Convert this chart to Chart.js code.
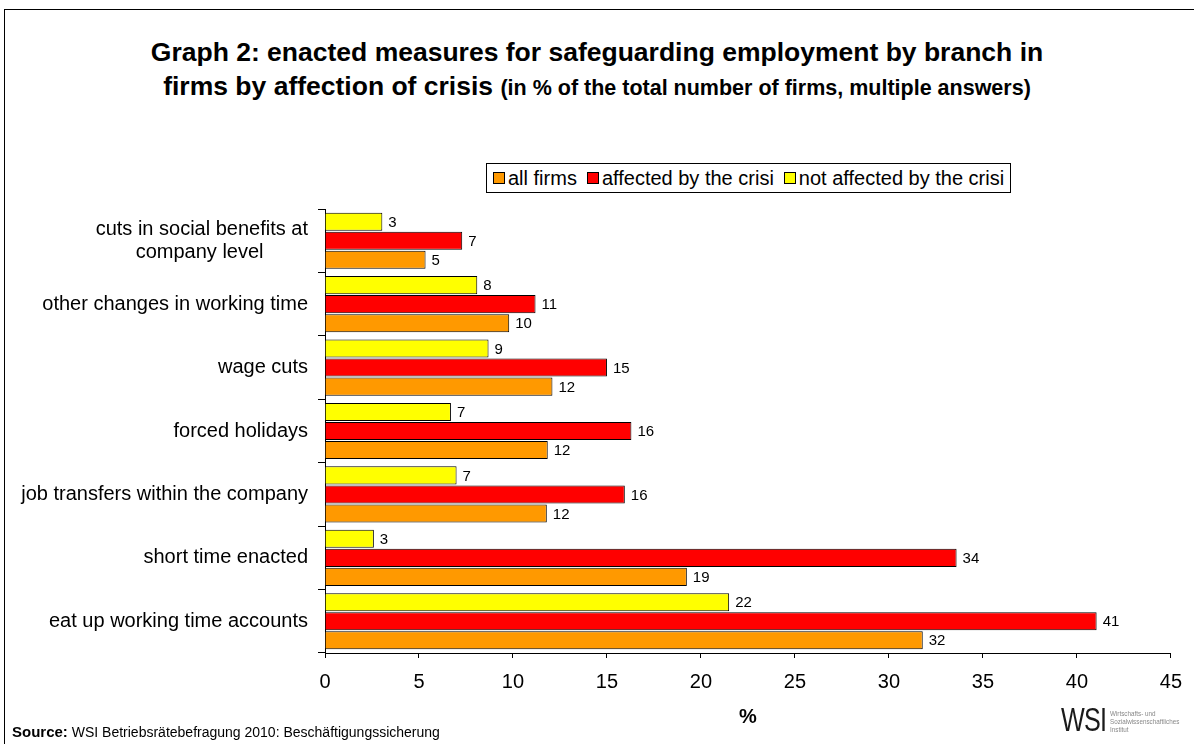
<!DOCTYPE html>
<html>
<head>
<meta charset="utf-8">
<script src="https://cdn.jsdelivr.net/npm/chart.js@4.4.1/dist/chart.umd.min.js"></script>
<style>
  body { margin: 0; width: 1194px; height: 744px; overflow: hidden; background: #fff; font-family: "Liberation Sans", Arial, sans-serif; position: relative; }
  .frame { position: absolute; left: 4px; top: 9px; right: -4px; bottom: -4px; border-left: 1px solid #000; border-top: 1px solid #000; }
  #title { position: absolute; left: 0; top: 35px; width: 1194px; text-align: center; font-weight: bold; font-size: 26.5px; line-height: 34px; color: #000; }
  #title span { font-size: 21.5px; }
  #legend { position: absolute; left: 486px; top: 163px; height: 28px; border: 1px solid #000; display: flex; align-items: center; padding: 0 6px; font-size: 20px; color: #000; background: #fff; }
  #legend .item { display: flex; align-items: center; margin-right: 10px; }
  #legend .item:last-child { margin-right: 0; }
  #legend .box { width: 10px; height: 10px; border: 1px solid #000; margin-right: 3px; }
  #wrap { position: absolute; left: 0; top: 0; }
  #source { position: absolute; left: 12px; top: 723px; font-size: 14px; color: #000; }
  #source b { font-size: 15px; }
  #logo { position: absolute; left: 1061px; top: 702px; display: flex; align-items: flex-start; }
  #logo .big { font-size: 34px; line-height: 34px; color: #1a1a1a; transform: scaleX(0.74); transform-origin: left top; width: 46px; letter-spacing: -1px; }
  #logo .small { font-size: 6.3px; line-height: 8px; color: #888; margin-left: 3px; margin-top: 8px; }
</style>
</head>
<body>
<div class="frame"></div>
<div id="title">Graph 2: enacted measures for safeguarding employment by branch in<br>firms by affection of crisis <span>(in % of the total number of firms, multiple answers)</span></div>
<div id="wrap"><canvas id="myChart" width="1194" height="744"></canvas></div>
<div id="legend"></div>
<div id="source"><b>Source:</b> WSI Betriebsrätebefragung 2010: Beschäftigungssicherung</div>
<div id="logo"><div class="big">WSI</div><div class="small">Wirtschafts- und<br>Sozialwissenschaftliches<br>Institut</div></div>
<script>
var categories = [
    ["cuts in social benefits at", "company level"],
    "other changes in working time",
    "wage cuts",
    "forced holidays",
    "job transfers within the company",
    "short time enacted",
    "eat up working time accounts"
];
var allFirms = [5.35, 9.8, 12.1, 11.85, 11.8, 19.25, 31.8];
var affected = [7.3, 11.2, 15.0, 16.3, 15.95, 33.6, 41.05];
var notAffected = [3.05, 8.1, 8.7, 6.7, 7.0, 2.6, 21.5];
var xMin = 0, xMax = 45, xStep = 5;

var fontFamily = '"Liberation Sans", Arial, sans-serif';
Chart.defaults.font.family = fontFamily;
Chart.defaults.color = '#000';

var ctx = document.getElementById("myChart").getContext('2d');

// value labels at the end of each bar
var valueLabels = {
    id: 'valueLabels',
    afterDatasetsDraw: function (chart) {
        var c = chart.ctx;
        c.save();
        c.font = '15px ' + fontFamily;
        c.fillStyle = '#000';
        c.textAlign = 'left';
        c.textBaseline = 'middle';
        chart.data.datasets.forEach(function (ds, i) {
            chart.getDatasetMeta(i).data.forEach(function (bar, j) {
                c.fillText(Math.round(ds.data[j]), bar.x + 6, bar.y + 1);
            });
        });
        c.restore();
    }
};

var measure = document.createElement('canvas').getContext('2d');

var myChart = new Chart(ctx, {
    type: 'bar',
    data: {
        labels: categories,
        datasets: [{
            label: 'not affected by the crisi',
            data: notAffected,
            backgroundColor: '#FFFF00',
            borderColor: '#000',
            borderWidth: 1
        }, {
            label: 'affected by the crisi',
            data: affected,
            backgroundColor: '#FF0000',
            borderColor: '#000',
            borderWidth: 1
        }, {
            label: 'all firms',
            data: allFirms,
            backgroundColor: '#FF9900',
            borderColor: '#000',
            borderWidth: 1
        }]
    },
    options: {
        indexAxis: 'y',
        responsive: false,
        animation: false,
        categoryPercentage: 0.9,
        barPercentage: 0.95,
        layout: { padding: { top: 209, left: 0, right: 12, bottom: 0 } },
        plugins: {
            legend: { display: false },
            title: { display: false },
            tooltip: { enabled: false }
        },
        scales: {
            x: {
                min: xMin,
                max: xMax,
                ticks: { stepSize: xStep, font: { size: 20 }, padding: 12, color: '#000' },
                grid: { drawOnChartArea: false, tickLength: 5, color: '#000' },
                border: { color: '#000', width: 1 },
                title: { display: true, text: '%', font: { size: 20, weight: 'bold' }, padding: { top: 0, bottom: 15 } },
                afterFit: function (scale) { scale.height = 91; }
            },
            y: {
                ticks: {
                    font: { size: 20, lineHeight: 1.15 },
                    padding: 10,
                    color: '#000',
                    autoSkip: false,
                    callback: function (value) {
                        var lab = this.getLabelForValue(value);
                        if (Array.isArray(lab)) {
                            // center the lines of a wrapped label on each other
                            measure.font = '20px ' + fontFamily;
                            var w = lab.map(function (s) { return measure.measureText(s).width; });
                            var max = Math.max.apply(null, w);
                            var sp = measure.measureText('\u00a0').width;
                            return lab.map(function (s, i) { return s + '\u00a0'.repeat(Math.round((max - w[i]) / 2 / sp)); });
                        }
                        return lab;
                    }
                },
                grid: { drawOnChartArea: false, offset: true, tickLength: 7, color: '#000' },
                border: { color: '#000', width: 1 },
                afterFit: function (scale) { scale.width = 325; }
            }
        }
    },
    plugins: [valueLabels]
});

// legend box built from the datasets (reverse order)
var legend = document.getElementById('legend');
myChart.data.datasets.slice().reverse().forEach(function (ds) {
    var item = document.createElement('div');
    item.className = 'item';
    var box = document.createElement('div');
    box.className = 'box';
    box.style.background = ds.backgroundColor;
    var txt = document.createElement('span');
    txt.textContent = ds.label;
    item.appendChild(box);
    item.appendChild(txt);
    legend.appendChild(item);
});
</script>
</body>
</html>
